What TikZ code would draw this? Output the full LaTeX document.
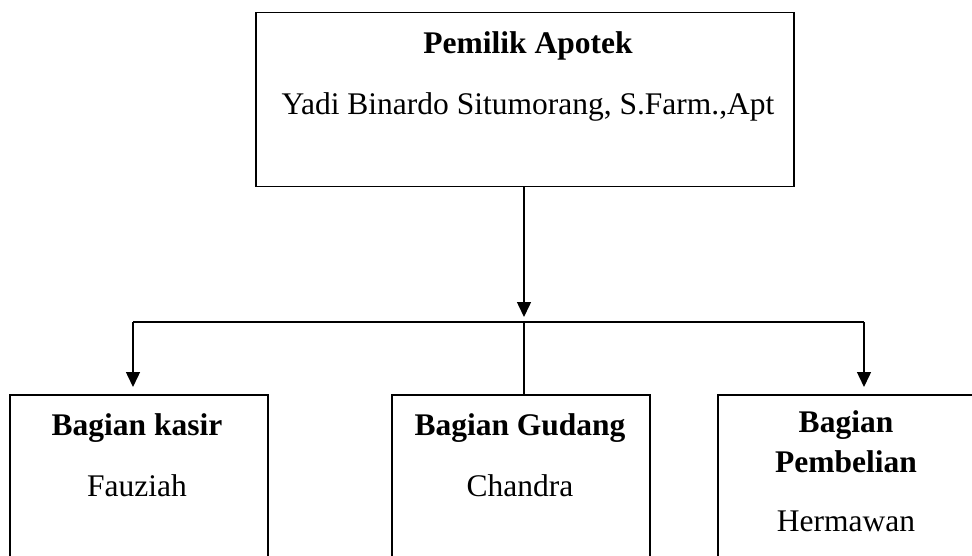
\documentclass[tikz,border=0pt]{standalone}
\usepackage{fontspec}
\setmainfont{Liberation Serif}
\usetikzlibrary{positioning,arrows.meta}

\begin{document}
\begin{tikzpicture}[x=1pt, y=-1pt,
  box/.style={draw, line width=1.5pt, minimum width=258pt, minimum height=230pt, inner sep=0pt, anchor=north west},
  headtxt/.style={font=\fontsize{31.5}{40}\selectfont\bfseries, anchor=base, align=center},
  persontxt/.style={font=\fontsize{31.5}{40}\selectfont, anchor=base},
  arrow/.style={-{Triangle[width=14pt,length=15pt]}, line width=1.5pt}
]
\useasboundingbox (0,0) rectangle (972,556);
\clip (0,0) rectangle (972,556);

% owner
\node[box, minimum width=538pt, minimum height=174pt] (owner) at (255,12) {};
\node[headtxt] (ownerT) at (528,54) {Pemilik Apotek};
\node[persontxt] (ownerN) at (528,115) {Yadi Binardo Situmorang, S.Farm.,Apt};

% staff
\node[box] (kasir) at (9,394) {};
\node[box] (gudang) at (391,394) {};
\node[box] (beli) at (717,394) {};

\node[headtxt] (kasirT) at (137,435) {Bagian kasir};
\node[persontxt] (kasirN) at (137,496) {Fauziah};
\node[headtxt] (gudangT) at (520,435) {Bagian Gudang};
\node[persontxt] (gudangN) at (520,496) {Chandra};
\node[headtxt] (beliT) at (846,472) {Bagian\\Pembelian};
\node[persontxt] (beliN) at (846,531) {Hermawan};

% connectors
\coordinate (bl) at (133,322);
\coordinate (br) at (864,322);
\draw[line width=1.5pt] (bl) -- (br);
\draw[arrow, shorten >=5pt] (owner.south -| 524,0) -- (524,322);
\draw[line width=1.5pt] (524,322) -- (gudang.north -| 524,0);
\draw[arrow, shorten >=7pt] (bl) -- (bl |- kasir.north);
\draw[arrow, shorten >=7pt] (br) -- (br |- beli.north);
\end{tikzpicture}
\end{document}
